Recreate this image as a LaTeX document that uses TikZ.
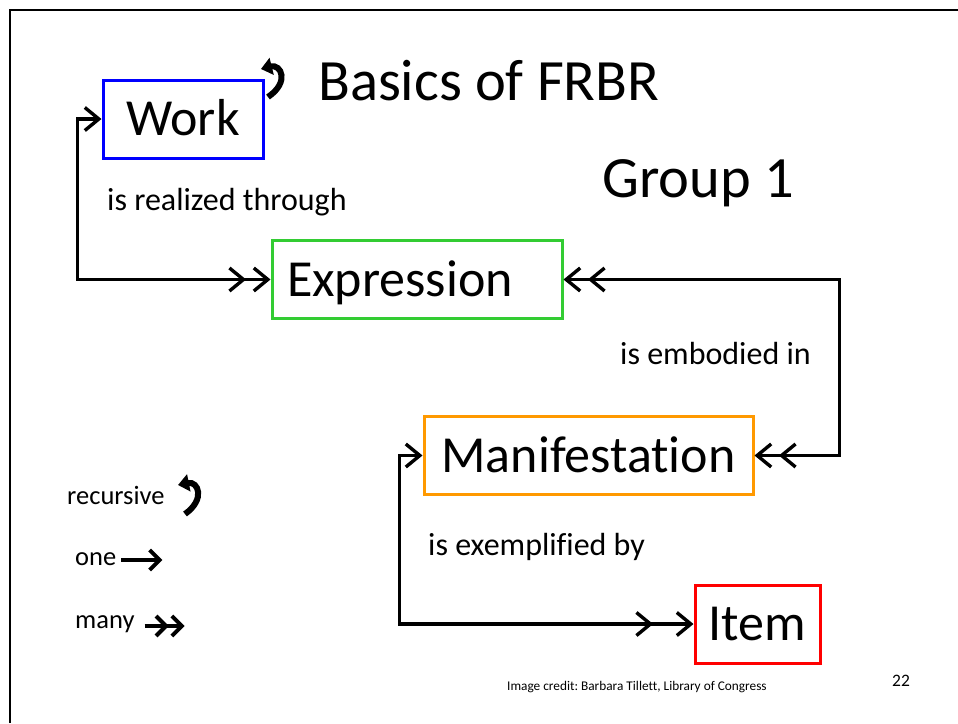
\documentclass[tikz,border=0pt]{standalone}
\usepackage{fontspec}
\setmainfont{Carlito}[Ligatures=NoCommon]
\usetikzlibrary{arrows.meta,positioning,calc}
\definecolor{FrbrBlue}{RGB}{0,0,255}
\definecolor{FrbrGreen}{RGB}{51,204,51}
\definecolor{FrbrOrange}{RGB}{255,153,0}
\definecolor{FrbrRed}{RGB}{255,0,0}
\frenchspacing

\tikzset{
  onetip/.tip={Straight Barb[length=14pt,width=23pt,line width=3.4pt]},
  manytip/.tip={Straight Barb[length=14pt,width=23pt,line width=3.4pt,sep=6pt] Straight Barb[length=14pt,width=23pt,line width=3.4pt]},
  widemanytip/.tip={Straight Barb[length=14pt,width=23pt,line width=3.4pt,sep=22pt] Straight Barb[length=14pt,width=23pt,line width=3.4pt]},
}

\begin{document}
\begin{tikzpicture}[x=1pt,y=-1pt,
    entity/.style={draw,line width=3pt,inner xsep=0pt,minimum height=78pt,
      text height=33pt,text depth=0pt,font=\fontsize{52}{60}\selectfont},
    rel/.style={line width=3.2pt},
    reltext/.style={anchor=west,inner sep=0pt,font=\fontsize{32}{36}\selectfont},
    legendtext/.style={anchor=west,inner sep=0pt,font=\fontsize{26.5}{30}\selectfont},
    recursive/.style={line width=6pt,-{Triangle[length=11pt,width=17pt]}}]
  \useasboundingbox (0,0) rectangle (958,723);

  % slide frame (top and left edge only)
  \draw[line width=2.5pt] (10,723) -- (10,10) -- (958,10);

  % titles
  \node[anchor=base west,inner sep=0pt,font=\fontsize{58.5}{66}\selectfont] (title) at (318,100) {Basics of FRBR};
  \node[anchor=base west,inner sep=0pt,font=\fontsize{58.5}{66}\selectfont] (group) at (602,197) {Group 1};

  % group 1 entities
  \node[entity,draw=FrbrBlue,minimum width=160pt] (work) at (183,119) {Work};
  \node[entity,draw=FrbrGreen,minimum width=290pt,text width=260pt,align=left] (expr) at (417,279.5) {Expression};
  \node[entity,draw=FrbrOrange,minimum width=329pt] (manif) at (588.5,455.5) {Manifestation};
  \node[entity,draw=FrbrRed,minimum width=125pt] (item) at (757.5,624) {Item};

  % relationships
  \draw[rel,onetip-manytip] (work.west) -- ++(-24,0) |- (expr.west);
  \draw[rel,manytip-manytip] (expr.east) -- ++(276,0) |- (manif.east);
  \draw[rel,onetip-widemanytip] (manif.west) -- ++(-23,0) |- (item.west);

  \node[reltext] (realized) at (107,202) {is realized through};
  \node[reltext] (embodied) at (620,354) {is embodied in};
  \node[reltext] (exemplified) at (428,547) {is exemplified by};

  % recursive mark on work
  \draw[recursive] (268,97) .. controls (290,82) and (281,64) .. (261,69);

  % legend
  \node[legendtext] (recur) at (67,495) {recursive};
  \draw[recursive] (185,514) .. controls (206,499) and (198,481) .. (178,485);
  \node[legendtext] (one) at (75,559) {one};
  \draw[line width=4.5pt,-{Straight Barb[length=10pt,width=20pt,line width=4pt]}] (one.east) ++(5,1) -- ++(41,0);
  \node[legendtext] (many) at (75,624) {many};
  \draw[line width=4.5pt,-{Straight Barb[length=10pt,width=20pt,line width=4pt,sep=1pt] Straight Barb[length=10pt,width=20pt,line width=4pt]}] (many.east) ++(10,2) -- ++(40,0);

  % footer
  \node[anchor=west,inner sep=0pt,font=\fontsize{13.3}{15}\selectfont] (credit) at (507,687) {Image credit: Barbara Tillett, Library of Congress};
  \node[anchor=west,inner sep=0pt,font=\fontsize{17.5}{20}\selectfont] (page) at (892,681) {22};
\end{tikzpicture}
\end{document}
